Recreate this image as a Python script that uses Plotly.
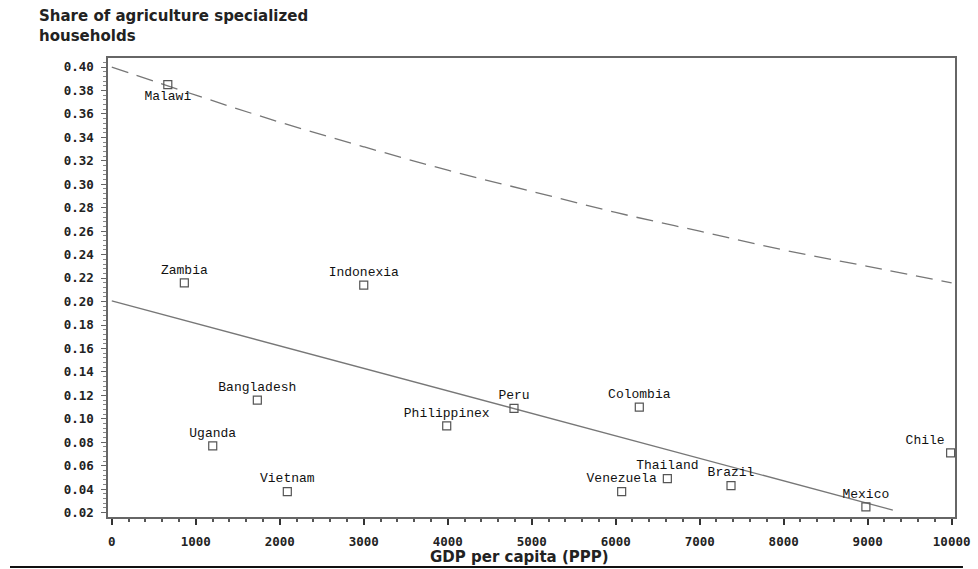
import plotly.graph_objects as go

# ---- data ----
countries = ["Malawi", "Zambia", "Indonexia", "Bangladesh", "Peru", "Philippinex",
             "Uganda", "Vietnam", "Colombia", "Chile", "Thailand", "Venezuela",
             "Brazil", "Mexico"]
gdp = [667, 864, 3000, 1733, 4789, 3988, 1202, 2090, 6281, 9988, 6615, 6071, 7373, 8979]
share = [0.385, 0.216, 0.214, 0.116, 0.109, 0.094, 0.077, 0.038, 0.110, 0.071,
         0.049, 0.038, 0.043, 0.025]
label_pos = ["bottom center", "top center", "top center", "top center", "top center",
             "top center", "top center", "top center", "top center", "top left",
             "top center", "top center", "top center", "top center"]

# fitted linear line (solid)
fit_x = [0, 9300]
fit_y = [0.2006, 0.0222]

# upper dashed curve (read at sample points)
upper_x = [0, 1000, 2000, 3000, 4000, 5000, 6000, 7000, 8000, 9000, 10000]
upper_y = [0.400, 0.376, 0.353, 0.332, 0.312, 0.294, 0.276, 0.260, 0.244, 0.230, 0.216]

y_ticks = [round(0.02 * i, 2) for i in range(1, 21)]
x_ticks = [0, 1000, 2000, 3000, 4000, 5000, 6000, 7000, 8000, 9000, 10000]

title_lines = ["Share of agriculture specialized", "households"]
x_title = "GDP per capita (PPP)"

tick_font = dict(family="DejaVu Sans Mono", size=12.5, color="#222", weight="bold")
label_font = dict(family="Liberation Mono", size=13, color="#111")
head_font = dict(family="DejaVu Sans", size=15, color="#222", weight="bold")

fig = go.Figure()
fig.add_trace(go.Scatter(x=upper_x, y=upper_y, mode="lines", line_shape="spline",
                         line=dict(color="#777", width=1.3, dash="17px,9px"),
                         hoverinfo="skip", showlegend=False))
fig.add_trace(go.Scatter(x=fit_x, y=fit_y, mode="lines",
                         line=dict(color="#777", width=1.3),
                         hoverinfo="skip", showlegend=False))
fig.add_trace(go.Scatter(x=gdp, y=share, mode="markers+text", text=countries,
                         textposition=label_pos, textfont=label_font,
                         marker=dict(symbol="square-open", size=8, color="#555",
                                     line=dict(width=1.2, color="#555")),
                         showlegend=False))

fig.update_layout(
    width=978, height=569,
    margin=dict(l=108, r=23, t=58, b=52, autoexpand=False),
    paper_bgcolor="white", plot_bgcolor="white",
    font=dict(family="DejaVu Sans", color="#222"),
)
fig.update_xaxes(range=[-45, 10040], tickvals=x_ticks, ticktext=[str(v) for v in x_ticks],
                 showgrid=False, zeroline=False, showline=True, linecolor="#666",
                 linewidth=1.5, mirror=True, ticks="outside", ticklen=6, tickcolor="#333",
                 tickwidth=1.5, tickfont=tick_font, ticklabelstandoff=6, automargin=False,
                 minor=dict(dtick=200, ticklen=3, tickcolor="#555", ticks="outside", tick0=0))
fig.update_yaxes(range=[0.0163, 0.4077], tickvals=y_ticks,
                 ticktext=["%.2f" % v for v in y_ticks], automargin=False,
                 showgrid=False, zeroline=False, showline=True, linecolor="#666",
                 linewidth=1.5, mirror=True, ticks="outside", ticklen=5, tickcolor="#666",
                 tickfont=tick_font, ticklabelstandoff=5,
                 minor=dict(dtick=0.004, tick0=0.0, ticklen=3, tickcolor="#888", ticks="outside"))

for line, yv in zip(title_lines, [1.091, 1.048]):
    fig.add_annotation(text=line, xref="paper", yref="paper", x=-0.0838, y=yv,
                       xanchor="left", yanchor="middle", showarrow=False, align="left",
                       font=head_font)
fig.add_annotation(text=x_title, xref="paper", yref="paper", x=0.486, y=-0.088,
                   xanchor="center", yanchor="middle", showarrow=False, font=head_font)
fig.add_shape(type="line", xref="paper", yref="paper", x0=-0.1157, x1=1.0094,
              y0=-0.109, y1=-0.109, line=dict(color="#111", width=2))

fig.write_html("out.html", config={"displayModeBar": False},
               post_script="document.body.style.margin='0';"
               "document.body.style.padding='0';")
